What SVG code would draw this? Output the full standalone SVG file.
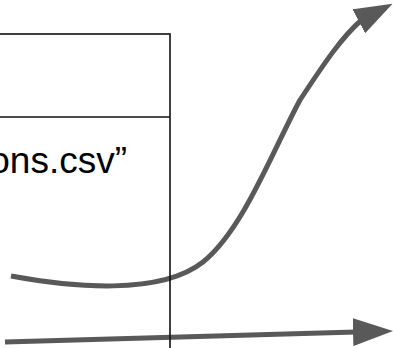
<svg xmlns="http://www.w3.org/2000/svg" width="393" height="348" viewBox="0 0 393 348">
  <style>
    .conn { fill: none; stroke: #595959; stroke-width: 5; }
    .box { fill: none; stroke: #111111; stroke-width: 1.6; }
    .label { font-family: "Liberation Sans", Arial, sans-serif; font-size: 37px; fill: #000000; }
  </style>
  <defs>
    <marker id="arrow" markerUnits="userSpaceOnUse" markerWidth="40" markerHeight="28" refX="3" refY="14" orient="auto" viewBox="0 0 40 28">
      <path d="M0,0 L40,14 L0,28 Z" fill="#595959"/>
    </marker>
    <marker id="arrow-curve" markerUnits="userSpaceOnUse" markerWidth="38" markerHeight="27" refX="3" refY="13.5" orient="-27.6" viewBox="0 0 38 27">
      <path d="M0,0 L38,13.5 L0,27 Z" fill="#595959"/>
    </marker>
  </defs>
  <g id="connectors">
    <path id="curve-arrow" class="conn" d="M11,276 C70,287 160,296 203,262 C243,230 272,152 300,100 C325,62 342,37 361.5,20" marker-end="url(#arrow-curve)"/>
    <path id="straight-arrow" class="conn" d="M5,342 L356,332" marker-end="url(#arrow)"/>
  </g>
  <g id="node-box">
    <rect class="box" x="-10" y="34" width="180" height="330"/>
    <line class="box" x1="-10" y1="117" x2="170" y2="117"/>
    <text class="label" x="127" y="173" text-anchor="end">ons.csv”</text>
  </g>
</svg>
